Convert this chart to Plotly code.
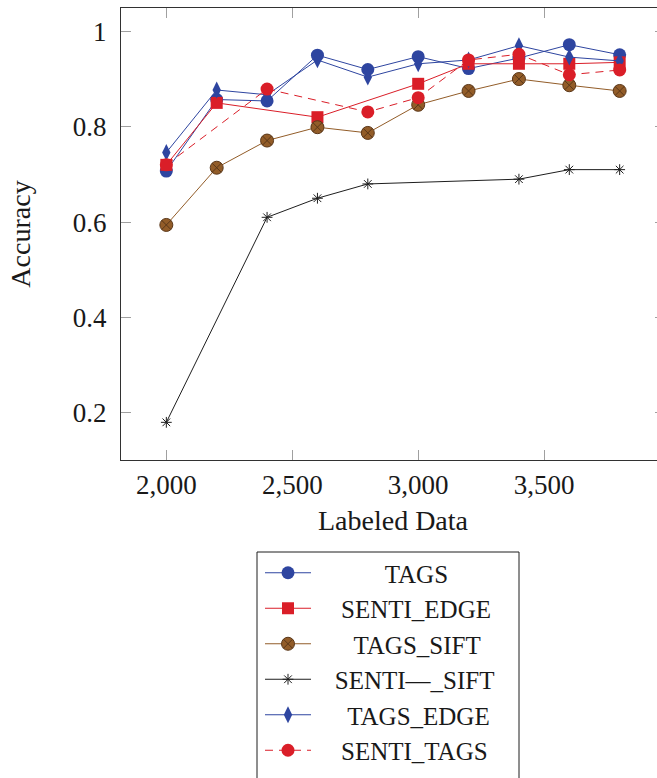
import plotly.graph_objects as go

# Labeled data sizes and accuracy per method
labeled = [2000, 2200, 2400, 2600, 2800, 3000, 3200, 3400, 3600, 3800]

tags = [0.707, 0.857, 0.854, 0.950, 0.920, 0.947, 0.922, 0.944, 0.972, 0.951]

senti_edge_x = [2000, 2200, 2600, 3000, 3200, 3400, 3600, 3800]
senti_edge = [0.720, 0.850, 0.820, 0.890, 0.932, 0.932, 0.932, 0.935]

tags_sift = [0.594, 0.714, 0.771, 0.799, 0.787, 0.846, 0.875, 0.900, 0.887, 0.875]

senti_sift_x = [2000, 2400, 2600, 2800, 3400, 3600, 3800]
senti_sift = [0.18, 0.61, 0.65, 0.68, 0.69, 0.71, 0.71]

tags_edge = [0.746, 0.877, 0.867, 0.940, 0.904, 0.932, 0.940, 0.970, 0.946, 0.938]

senti_tags_x = [2000, 2400, 2800, 3000, 3200, 3400, 3600, 3800]
senti_tags = [0.720, 0.879, 0.831, 0.861, 0.940, 0.952, 0.909, 0.919]

y_ticks = [0.2, 0.4, 0.6, 0.8, 1.0]
y_tick_text = ["0.2", "0.4", "0.6", "0.8", "1"]
x_ticks = [2000, 2500, 3000, 3500]
x_tick_text = ["2,000", "2,500", "3,000", "3,500"]

BLUE = "rgb(46,69,160)"
RED = "rgb(218,30,40)"
BROWN = "rgb(146,92,40)"
BLACK = "rgb(30,30,30)"
TEXT = "rgb(25,25,25)"
FONT = "Liberation Serif, Times New Roman, DejaVu Serif, serif"

W, H = 667, 778
ML, MR, MT, MB = 121, 2, 8, 318
PW = W - ML - MR
PH = H - MT - MB


def px_x(p):
    return (p - ML) / PW


def px_y(p):
    return (H - MB - p) / PH


def centered(name, pad):
    # legend entries are centred in their column
    return "\u00a0" * pad + name


fig = go.Figure()

fig.add_trace(go.Scatter(
    x=labeled, y=tags, name=centered("TAGS", 11), mode="lines+markers",
    line=dict(color=BLUE, width=1),
    marker=dict(symbol="circle", size=13, color=BLUE),
))
fig.add_trace(go.Scatter(
    x=senti_edge_x, y=senti_edge, name=centered("SENTI_EDGE", 4), mode="lines+markers",
    line=dict(color=RED, width=1),
    marker=dict(symbol="square", size=12, color=RED),
))
fig.add_trace(go.Scatter(
    x=labeled, y=tags_sift, name=centered("TAGS_SIFT", 6), mode="lines+markers",
    line=dict(color=BROWN, width=1),
    marker=dict(symbol="circle-x", size=13, color=BROWN,
                line=dict(color="rgb(90,55,25)", width=1)),
))
fig.add_trace(go.Scatter(
    x=senti_sift_x, y=senti_sift, name=centered("SENTI—_SIFT", 3), mode="lines+markers",
    line=dict(color=BLACK, width=1),
    marker=dict(symbol="asterisk-open", size=9, color=BLACK,
                line=dict(color=BLACK, width=1)),
))
fig.add_trace(go.Scatter(
    x=labeled, y=tags_edge, name=centered("TAGS_EDGE", 5), mode="lines+markers",
    line=dict(color=BLUE, width=1),
    marker=dict(symbol="diamond-tall", size=12, color=BLUE),
))
fig.add_trace(go.Scatter(
    x=senti_tags_x, y=senti_tags, name=centered("SENTI_TAGS", 4), mode="lines+markers",
    line=dict(color=RED, width=1, dash="8px,6px"),
    marker=dict(symbol="circle", size=13, color=RED),
))

axis_common = dict(
    showgrid=False, zeroline=False,
    showline=True, linecolor="rgb(50,50,50)", linewidth=1,
    mirror="ticks", ticks="inside", ticklen=10, tickwidth=1,
    tickcolor="rgb(160,160,160)",
    tickfont=dict(family=FONT, size=27, color=TEXT),
)

fig.update_xaxes(
    range=[1820, 3980], tickvals=x_ticks, ticktext=x_tick_text,
    ticklabelstandoff=1,
    title=dict(text="Labeled Data", font=dict(family=FONT, size=28, color=TEXT),
               standoff=10),
    **axis_common,
)
fig.update_yaxes(
    range=[0.101, 1.049], tickvals=y_ticks, ticktext=y_tick_text,
    ticklabelstandoff=8,
    title=dict(text="Accuracy", font=dict(family=FONT, size=28, color=TEXT),
               standoff=34),
    **axis_common,
)

# Legend frame
fig.add_shape(
    type="rect", xref="paper", yref="paper",
    x0=px_x(257), x1=px_x(519), y0=px_y(800), y1=px_y(552),
    line=dict(color="rgb(30,30,30)", width=1), fillcolor="white", layer="above",
)

fig.update_layout(
    width=W, height=H,
    margin=dict(l=ML, r=MR, t=MT, b=MB, autoexpand=False),
    plot_bgcolor="white", paper_bgcolor="white",
    showlegend=True,
    legend=dict(
        x=px_x(260), y=px_y(550), xanchor="left", yanchor="top",
        bgcolor="rgba(0,0,0,0)", borderwidth=0,
        font=dict(family=FONT, size=25, color=TEXT),
        itemwidth=46, tracegroupgap=0,
    ),
)

fig.write_html(
    "out.html",
    post_script="document.documentElement.style.overflow='hidden';document.body.style.overflow='hidden';",
)
